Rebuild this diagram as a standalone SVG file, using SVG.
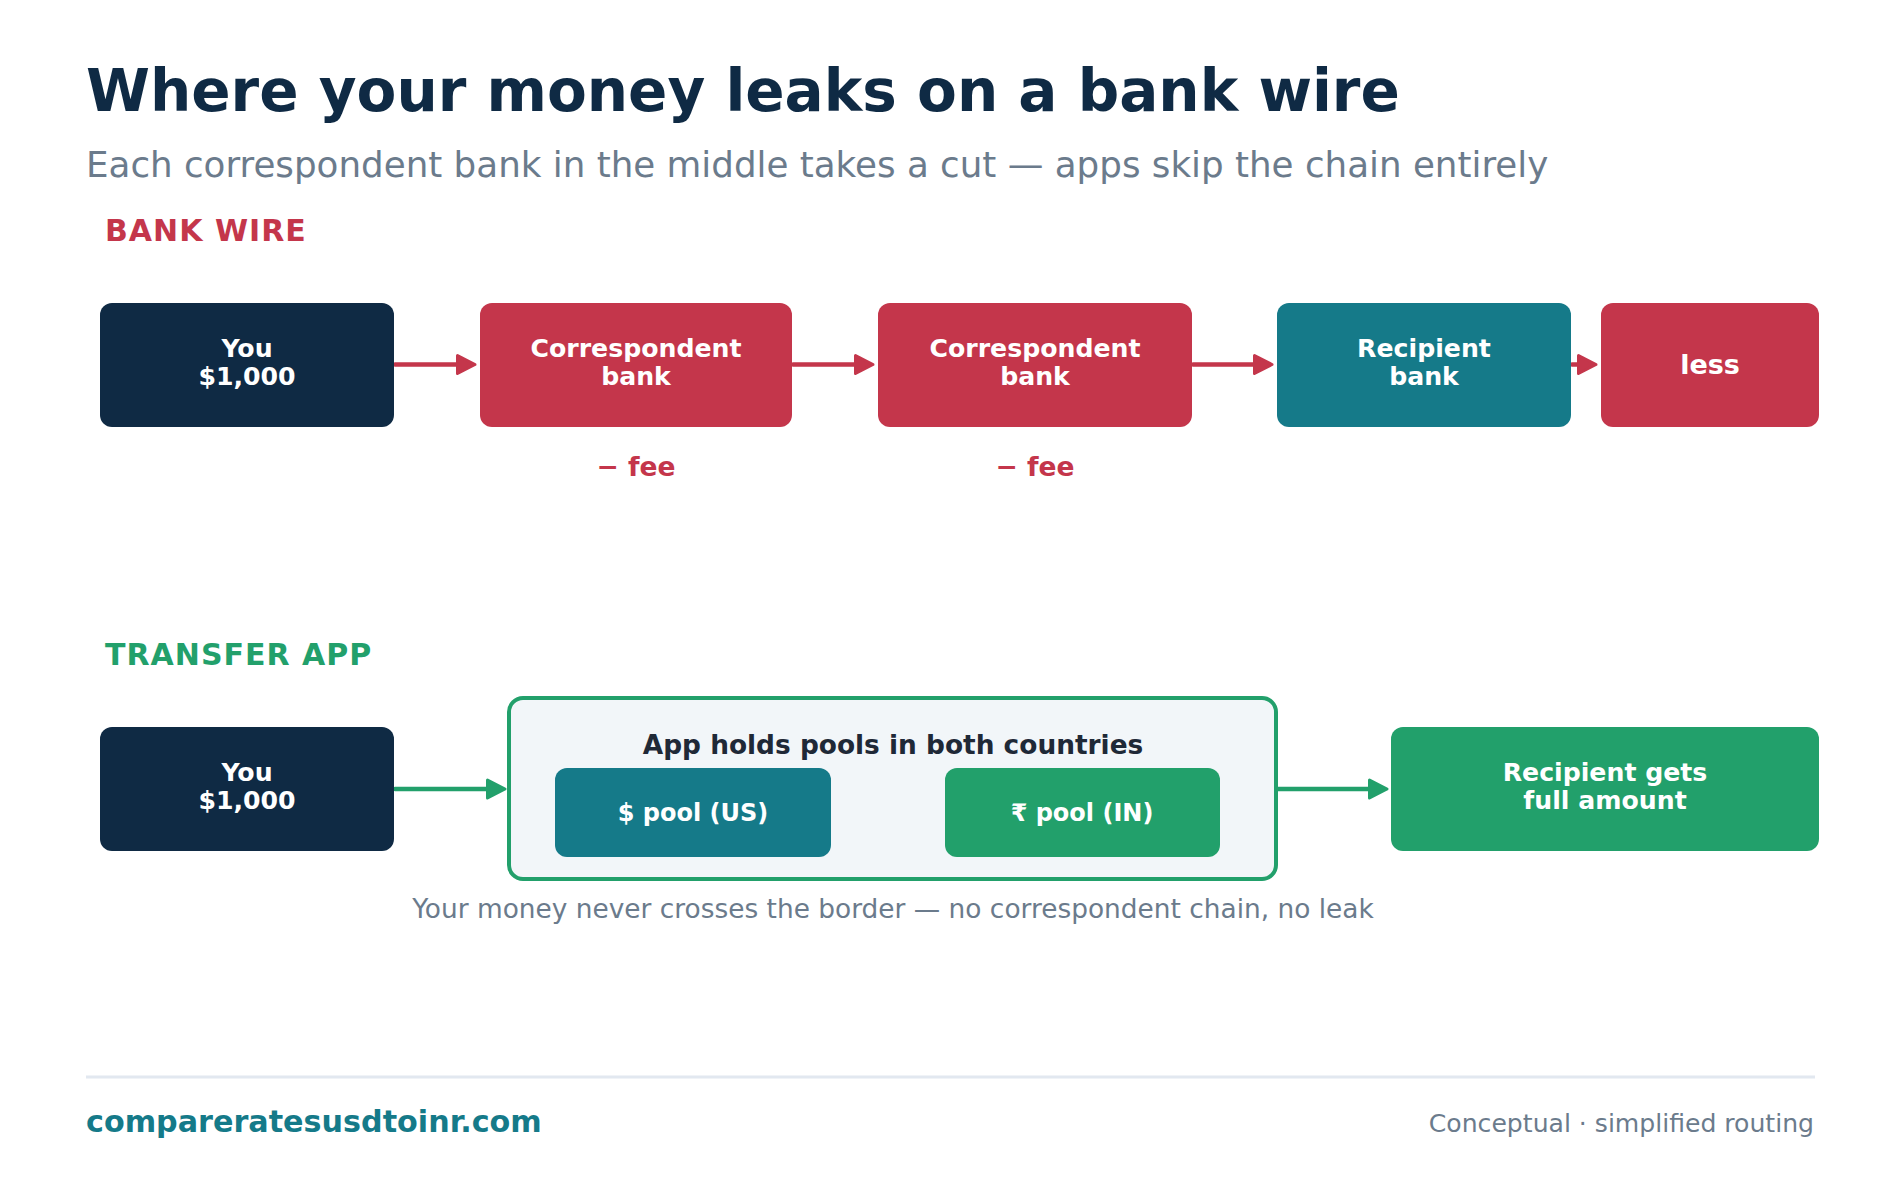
<svg xmlns="http://www.w3.org/2000/svg" width="1900" height="1178" viewBox="0 0 1900 1178">
<style>
text{font-family:"DejaVu Sans","Liberation Sans",sans-serif}
.title{font-size:58px;font-weight:700;fill:#0f2a44}
.sub{font-size:35.7px;fill:#6b7b8c}
.sec{font-size:30px;font-weight:700;letter-spacing:1px}
.nt{font-size:25.2px;font-weight:700;fill:#ffffff;text-anchor:middle}
.fee{font-size:26.5px;font-weight:700;fill:#c4364b;text-anchor:middle}
.cap{font-size:26.4px;fill:#6b7b8c;text-anchor:middle}
.navy{fill:#0f2a44}.red{fill:#c4364b}.teal{fill:#157a89}.green{fill:#22a06b}
.rline{stroke:#c4364b;stroke-width:4.7;fill:none;stroke-linecap:round}
.gline{stroke:#22a06b;stroke-width:4.7;fill:none;stroke-linecap:round}
</style>
<defs>
<marker id="ar" markerUnits="userSpaceOnUse" markerWidth="24" markerHeight="24" refX="8.5" refY="12" orient="auto" viewBox="0 0 24 24">
<path d="M2,3 L19.5,12 L2,21 Z" fill="#c4364b" stroke="#c4364b" stroke-width="3" stroke-linejoin="round"/>
</marker>
<marker id="ag" markerUnits="userSpaceOnUse" markerWidth="24" markerHeight="24" refX="8.5" refY="12" orient="auto" viewBox="0 0 24 24">
<path d="M2,3 L19.5,12 L2,21 Z" fill="#22a06b" stroke="#22a06b" stroke-width="3" stroke-linejoin="round"/>
</marker>
</defs>
<rect width="1900" height="1178" fill="#ffffff"/>
<text class="title" x="86" y="111">Where your money leaks on a bank wire</text>
<text class="sub" x="86" y="177">Each correspondent bank in the middle takes a cut — apps skip the chain entirely</text>
<text class="sec" x="105" y="241" fill="#c4364b">BANK WIRE</text>
<text class="sec" x="105" y="665" fill="#22a06b">TRANSFER APP</text>

<g id="connectors">
<line class="rline" x1="395" y1="364.5" x2="464" y2="364.5" marker-end="url(#ar)"/>
<line class="rline" x1="793" y1="364.5" x2="862" y2="364.5" marker-end="url(#ar)"/>
<line class="rline" x1="1193" y1="364.5" x2="1261" y2="364.5" marker-end="url(#ar)"/>
<line class="rline" x1="1572" y1="364.5" x2="1585" y2="364.5" marker-end="url(#ar)"/>
<line class="gline" x1="395" y1="789" x2="494" y2="789" marker-end="url(#ag)"/>
<line class="gline" x1="1278" y1="789" x2="1376" y2="789" marker-end="url(#ag)"/>
</g>

<g id="you1"><rect class="navy" x="100" y="303" width="294" height="124" rx="12"/>
<text class="nt" x="247" y="357">You</text><text class="nt" x="247" y="385">$1,000</text></g>
<g id="corr1"><rect class="red" x="480" y="303" width="312" height="124" rx="12"/>
<text class="nt" x="636" y="357">Correspondent</text><text class="nt" x="636" y="385">bank</text></g>
<g id="fee1"><text class="fee" x="636" y="476">− fee</text></g>
<g id="corr2"><rect class="red" x="878" y="303" width="314" height="124" rx="12"/>
<text class="nt" x="1035" y="357">Correspondent</text><text class="nt" x="1035" y="385">bank</text></g>
<g id="fee2"><text class="fee" x="1035" y="476">− fee</text></g>
<g id="recip"><rect class="teal" x="1277" y="303" width="294" height="124" rx="12"/>
<text class="nt" x="1424" y="357">Recipient</text><text class="nt" x="1424" y="385">bank</text></g>
<g id="less"><rect class="red" x="1601" y="303" width="218" height="124" rx="12"/>
<text class="nt" x="1710" y="374" style="font-size:27px">less</text></g>

<g id="you2"><rect class="navy" x="100" y="727" width="294" height="124" rx="12"/>
<text class="nt" x="247" y="781">You</text><text class="nt" x="247" y="809">$1,000</text></g>
<g id="app"><rect x="509" y="698" width="767" height="181" rx="14" fill="#f2f6f9" stroke="#22a06b" stroke-width="4"/>
<text x="893" y="754" font-size="26.4" font-weight="700" fill="#1f2937" text-anchor="middle">App holds pools in both countries</text></g>
<g id="pool-us"><rect class="teal" x="555" y="768" width="276" height="89" rx="12"/>
<text class="nt" x="693" y="821" style="font-size:24px">$ pool (US)</text></g>
<g id="pool-in"><rect class="green" x="945" y="768" width="275" height="89" rx="12"/>
<text class="nt" x="1082" y="821" style="font-size:24px">₹ pool (IN)</text></g>
<g id="recip2"><rect class="green" x="1391" y="727" width="428" height="124" rx="12"/>
<text class="nt" x="1605" y="781">Recipient gets</text><text class="nt" x="1605" y="809">full amount</text></g>
<text class="cap" x="893" y="918">Your money never crosses the border — no correspondent chain, no leak</text>

<line x1="86" y1="1077" x2="1815" y2="1077" stroke="#e2e8f0" stroke-width="3"/>
<text x="86" y="1132" font-size="30.2" font-weight="700" fill="#157a89">compareratesusdtoinr.com</text>
<text x="1814" y="1132" font-size="25.1" fill="#6b7b8c" text-anchor="end">Conceptual · simplified routing</text>
</svg>
